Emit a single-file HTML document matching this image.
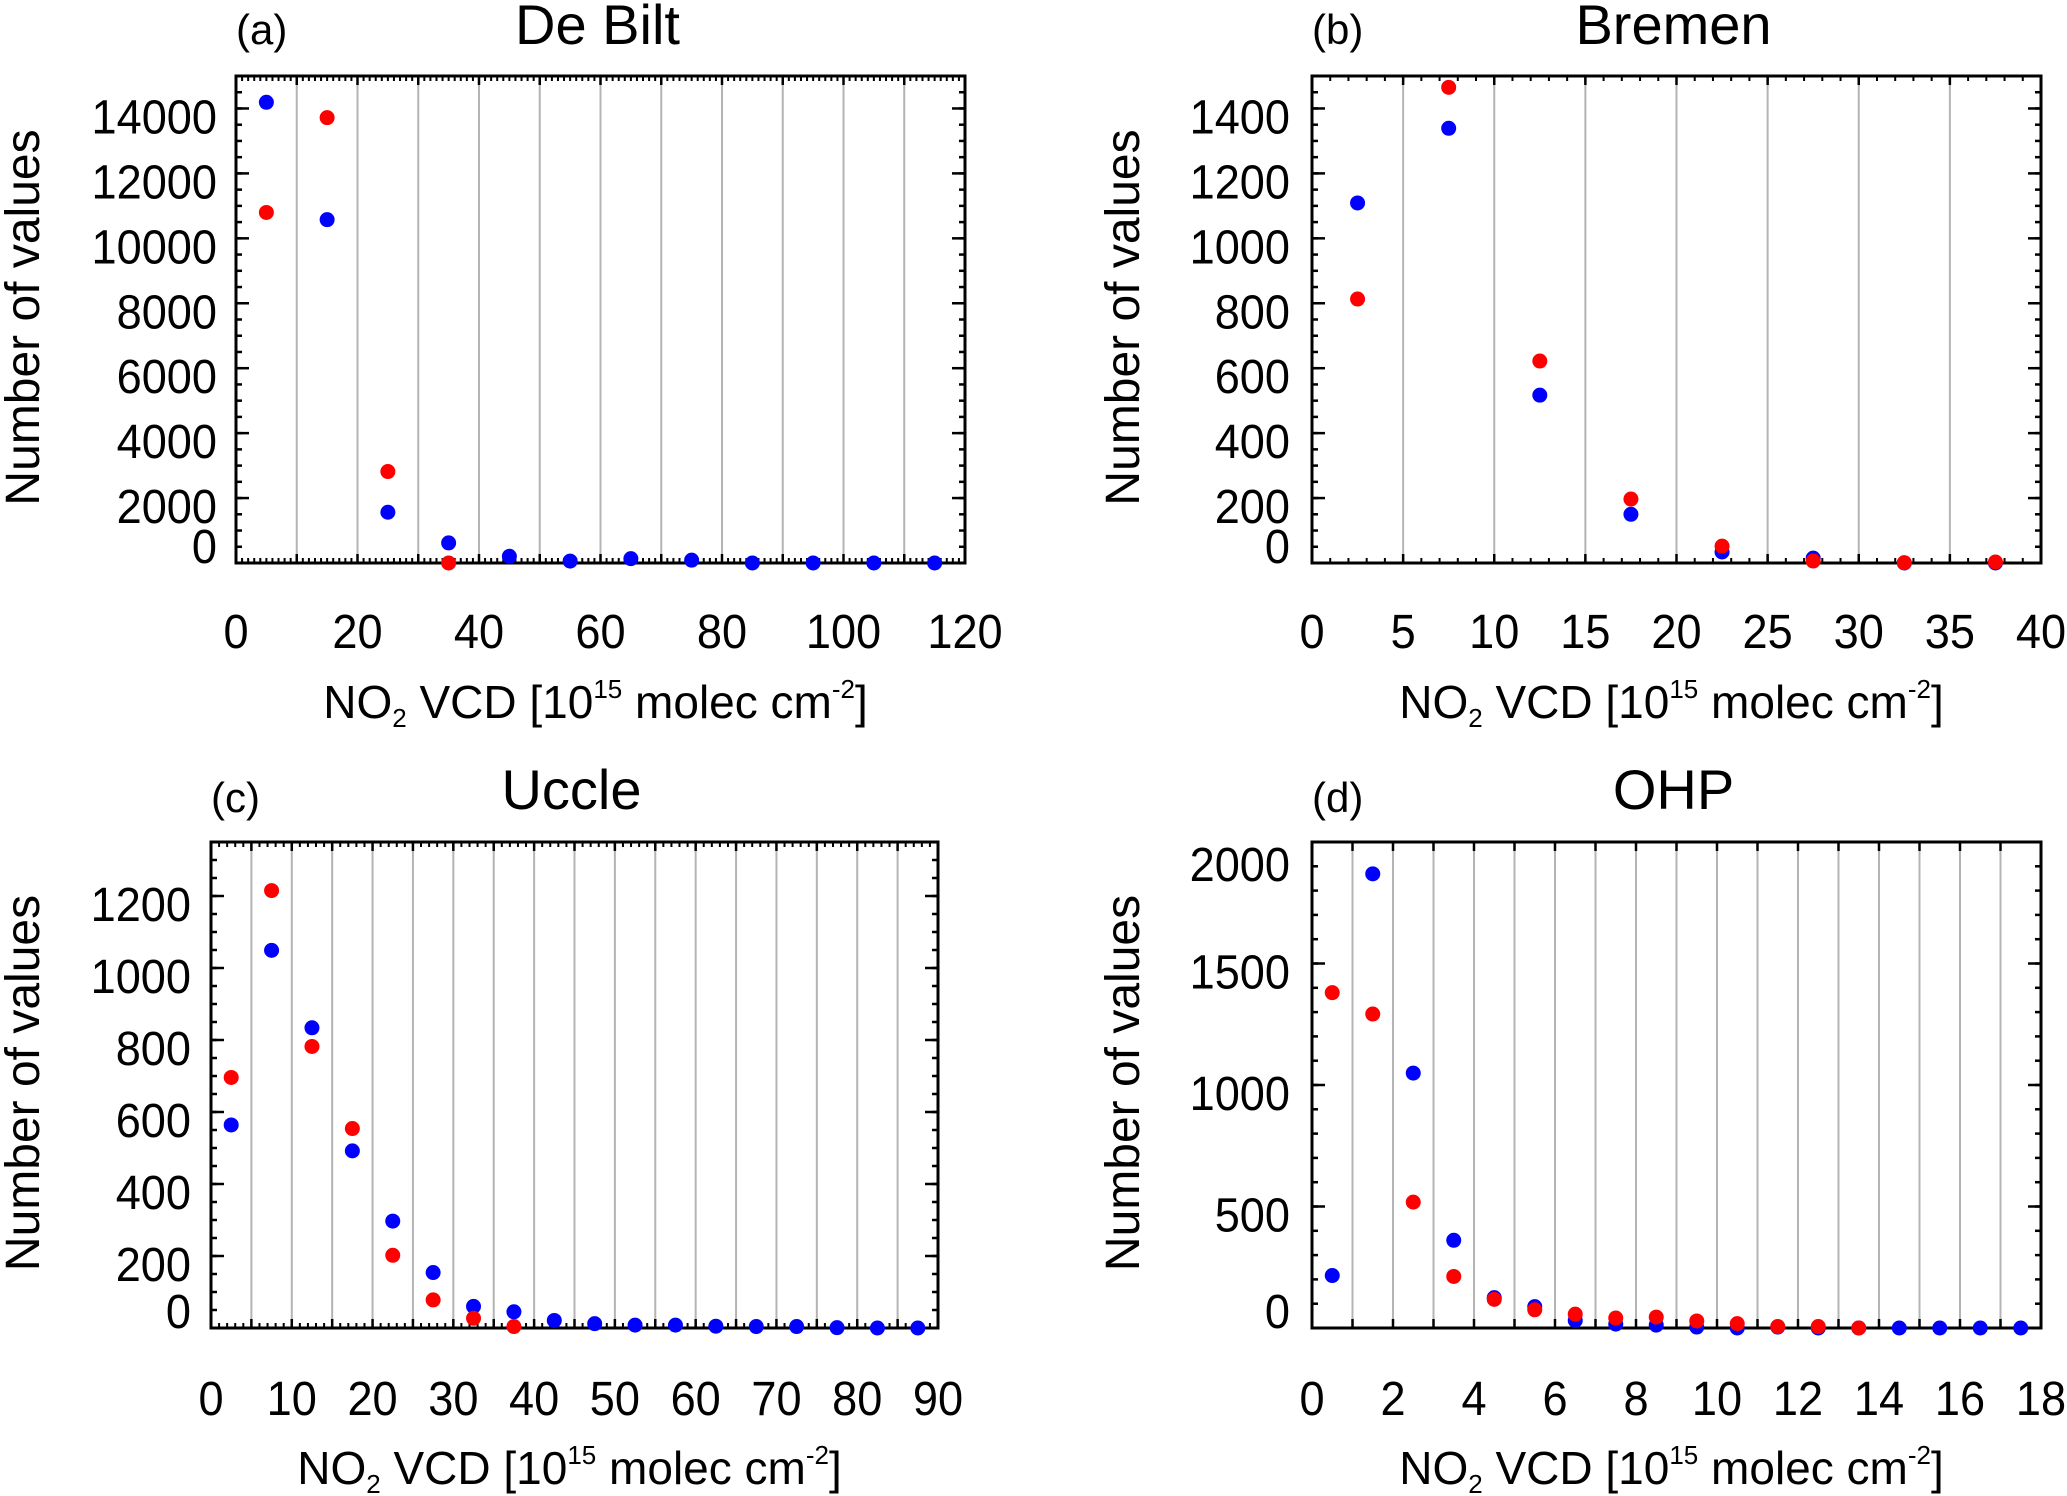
<!DOCTYPE html>
<html><head><meta charset="utf-8">
<style>
html,body{margin:0;padding:0;background:#fff;}
svg{display:block;}
text{font-family:"Liberation Sans",sans-serif;fill:#000;}
</style></head>
<body>
<svg id="fig" width="2067" height="1496" viewBox="0 0 2067 1496" xmlns="http://www.w3.org/2000/svg"></svg>
<script>
// ---- Data ----
// De Bilt (a)
const debiltBins = [5,15,25,35,45,55,65,75,85,95,105,115];
const debiltBlue = [14190,10575,1563,618,206,59,133,88,0,0,0,0];
const debiltRed = [10796,13717,2817,0];
const debiltYTicks = [0,2000,4000,6000,8000,10000,12000,14000];
const debiltXTicks = [0,20,40,60,80,100,120];
// Bremen (b)
const bremenBins = [2.5,7.5,12.5,17.5,22.5,27.5,32.5,37.5];
const bremenBlue = [1109,1339,517,150,34,15,0,0];
const bremenRed = [813,1465,622,197,52,6,1,3];
const bremenYTicks = [0,200,400,600,800,1000,1200,1400];
const bremenXTicks = [0,5,10,15,20,25,30,35,40];
// Uccle (c)
const uccleBins = [2.5,7.5,12.5,17.5,22.5,27.5,32.5,37.5,42.5,47.5,52.5,57.5,62.5,67.5,72.5,77.5,82.5,87.5];
const uccleBlue = [564,1049,834,492,297,154,60,45,21,12,8,8,5,4,4,1,0,0];
const uccleRed = [696,1215,782,554,202,78,27,4];
const uccleYTicks = [0,200,400,600,800,1000,1200];
const uccleXTicks = [0,10,20,30,40,50,60,70,80,90];
// OHP (d)
const ohpBins = [0.5,1.5,2.5,3.5,4.5,5.5,6.5,7.5,8.5,9.5,10.5,11.5,12.5,13.5,14.5,15.5,16.5,17.5];
const ohpBlue = [216,1869,1049,361,125,88,31,16,12,4,0,4,0,0,0,0,0,0];
const ohpRed = [1380,1292,518,212,118,75,57,41,45,29,18,6,6,0];
const ohpYTicks = [0,500,1000,1500,2000];
const ohpXTicks = [0,2,4,6,8,10,12,14,16,18];

const NS = "http://www.w3.org/2000/svg";
const svg = document.getElementById('fig');
function mk(tag, attrs, parent){
  const e = document.createElementNS(NS, tag);
  for (const k in attrs) e.setAttribute(k, attrs[k]);
  (parent||svg).appendChild(e);
  return e;
}

const panels = [
  {id:'a', title:'De Bilt', L:236, R:965, T:76, B:563, xmax:120, ymax:15000, grid:10, xminor:1, yminor:500,
   bins:debiltBins, blue:debiltBlue, red:debiltRed, yt:debiltYTicks, xt:debiltXTicks, ytRight:217, ytitleX:22, xlabY:648, xtitleY:718, titleY:44, tagY:50},
  {id:'b', title:'Bremen', L:1312, R:2041, T:76, B:563, xmax:40, ymax:1500, grid:5, xminor:1, yminor:50,
   bins:bremenBins, blue:bremenBlue, red:bremenRed, yt:bremenYTicks, xt:bremenXTicks, ytRight:1290, ytitleX:1122, xlabY:648, xtitleY:718, titleY:44, tagY:50},
  {id:'c', title:'Uccle', L:211, R:938, T:842, B:1328, xmax:90, ymax:1350, grid:5, xminor:1, yminor:50,
   bins:uccleBins, blue:uccleBlue, red:uccleRed, yt:uccleYTicks, xt:uccleXTicks, ytRight:191, ytitleX:22, xlabY:1415, xtitleY:1484, titleY:809, tagY:818},
  {id:'d', title:'OHP', L:1312, R:2041, T:842, B:1328, xmax:18, ymax:2000, grid:1, xminor:0, yminor:100,
   bins:ohpBins, blue:ohpBlue, red:ohpRed, yt:ohpYTicks, xt:ohpXTicks, ytRight:1290, ytitleX:1122, xlabY:1415, xtitleY:1484, titleY:809, tagY:818}
];

panels.forEach(p => {
  const g = mk('g', {});
  
  
  const sx = v => p.L + v / p.xmax * (p.R - p.L);
  const sy = v => p.B - v / p.ymax * (p.B - p.T);

  for (let v = p.grid; v < p.xmax - 1e-9; v += p.grid) {
    const l = mk('line', {x1:sx(v), x2:sx(v), y1:p.T, y2:p.B, stroke:'#b4b4b4', 'stroke-width':2}, g);
    
    
  }
  if (p.xminor) {
    for (let v = p.xminor; v < p.xmax; v += p.xminor) {
      mk('line', {x1:sx(v), x2:sx(v), y1:p.B, y2:p.B-5, stroke:'#000', 'stroke-width':2}, g);
      mk('line', {x1:sx(v), x2:sx(v), y1:p.T, y2:p.T+5, stroke:'#000', 'stroke-width':2}, g);
    }
  }
  for (let v = p.grid; v < p.xmax; v += p.grid) {
    mk('line', {x1:sx(v), x2:sx(v), y1:p.B, y2:p.B-9, stroke:'#000', 'stroke-width':2.5}, g);
    mk('line', {x1:sx(v), x2:sx(v), y1:p.T, y2:p.T+9, stroke:'#000', 'stroke-width':2.5}, g);
  }
  for (let v = p.yminor; v < p.ymax; v += p.yminor) {
    mk('line', {x1:p.L, x2:p.L+6, y1:sy(v), y2:sy(v), stroke:'#000', 'stroke-width':2.5}, g);
    mk('line', {x1:p.R, x2:p.R-6, y1:sy(v), y2:sy(v), stroke:'#000', 'stroke-width':2.5}, g);
  }
  p.yt.forEach(v => {
    mk('line', {x1:p.L, x2:p.L+13, y1:sy(v), y2:sy(v), stroke:'#000', 'stroke-width':2.5}, g);
    mk('line', {x1:p.R, x2:p.R-13, y1:sy(v), y2:sy(v), stroke:'#000', 'stroke-width':2.5}, g);
    let y = sy(v) + 25;
    if (v === 0) y -= 25;
    if (v === p.ymax) y += 14;
    const t = mk('text', {x:0, y:0, 'font-size':48, 'text-anchor':'end', transform:'translate(' + p.ytRight + ',' + y + ') scale(0.94,1)'}, g);
    t.textContent = String(v);
    
    
  });
  p.xt.forEach(v => {
    const t = mk('text', {x:0, y:0, 'font-size':48, 'text-anchor':'middle', transform:'translate(' + sx(v) + ',' + p.xlabY + ') scale(0.94,1)'}, g);
    t.textContent = String(v);
    
    
  });
  const fr = mk('rect', {x:p.L, y:p.T, width:p.R-p.L, height:p.B-p.T, fill:'none', stroke:'#000', 'stroke-width':3}, g);
  
  

  p.blue.forEach((v, i) => {
    const c = mk('ellipse', {cx:sx(p.bins[i]), cy:sy(v), rx:7.5, ry:7.5, fill:'#0000ff'}, g);
    
    
  });
  p.red.forEach((v, i) => {
    const c = mk('ellipse', {cx:sx(p.bins[i]), cy:sy(v), rx:7.5, ry:7.5, fill:'#ff0000'}, g);
    
    
  });

  const tt = mk('text', {x:(p.L+p.R)/2 - 3, y:p.titleY, 'font-size':56, 'text-anchor':'middle'}, g);
  tt.textContent = p.title;
  
  
  const tg = mk('text', {x:p.L, y:p.tagY - 6, 'font-size':42}, g);
  tg.textContent = '(' + p.id + ')';
  
  

  const cy = (p.T + p.B) / 2 - 2;
  const yt = mk('text', {x:0, y:0, 'font-size':48, 'text-anchor':'middle', transform:'translate(' + (p.ytitleX+17) + ',' + cy + ') rotate(-90)'}, g);
  yt.textContent = 'Number of values';
  
  

  const xt = mk('text', {x:(p.L+p.R)/2 - 5, y:p.xtitleY, 'font-size':46, 'text-anchor':'middle'}, g);
  
  
  xt.innerHTML = 'NO<tspan font-size="26" dy="9">2</tspan><tspan dy="-9"> VCD [10</tspan><tspan font-size="26" dy="-20">15</tspan><tspan dy="20"> molec cm</tspan><tspan font-size="26" dy="-20">-2</tspan><tspan dy="20">]</tspan>';
});
</script>
</body></html>
